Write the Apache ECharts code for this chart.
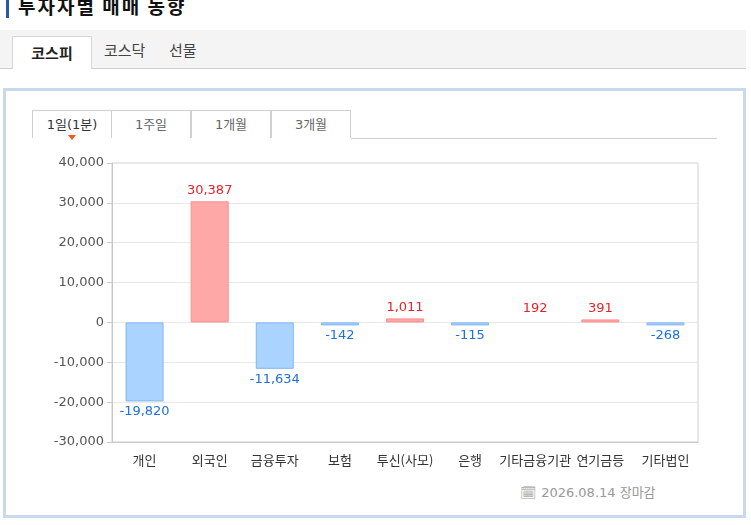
<!DOCTYPE html>
<html>
<head>
<meta charset="utf-8">
<script src="https://cdn.jsdelivr.net/npm/echarts@6/dist/echarts.min.js"></script>
<style>
  body { margin: 0; width: 751px; height: 525px; background: #fff; position: relative; overflow: hidden;
         font-family: "DejaVu Sans", "Noto Sans CJK KR", sans-serif; }
  .title { position: absolute; left: 6px; top: -6px; font-size: 19px; font-weight: bold; color: #111; padding-left: 9px;
           border-left: 3px solid #2a55b0; line-height: 24px; letter-spacing: 2px;
           font-family: "Noto Sans CJK KR", sans-serif; }
  .mtabs { position: absolute; left: 0; top: 30px; width: 746px; height: 38px; background: #f4f4f4; border-bottom: 1px solid #d0d0d0;
           font-family: "Noto Sans CJK KR", sans-serif; }
  .mtab { position: absolute; top: 9px; font-size: 15px; color: #444; }
  .mtab.on { top: 6px; left: 12px; width: 78px; height: 32px; background: #fff; border: 1px solid #d8d8d8; border-bottom: none;
             text-align: center; line-height: 32px; font-weight: bold; color: #222; }
  .panel { position: absolute; left: 3px; top: 88px; width: 737px; height: 424px; border: 3px solid #c8d9ee; }
  .stabs { position: absolute; left: 32px; top: 110px; height: 28px; }
  .stab { position: absolute; top: 0; width: 78px; height: 27px; border: 1px solid #d0d0d0; border-bottom: none; background: #fff;
          text-align: center; line-height: 28px; font-size: 13px; color: #666; }
  .sline { position: absolute; left: 351px; top: 138px; width: 366px; height: 1px; background: #d0d0d0; }
  .tri { position: absolute; left: 68px; top: 135px; width: 0; height: 0; border-left: 4px solid transparent;
         border-right: 4px solid transparent; border-top: 5px solid #f05a1a; }
  .foot { position: absolute; left: 520px; top: 482px; font-size: 13px; color: #999; }
  #chart { position: absolute; left: 40px; top: 146px; width: 680px; height: 340px; }
</style>
</head>
<body>
<div class="title">투자자별 매매 동향</div>
<div class="mtabs">
  <div class="mtab on">코스피</div>
  <div class="mtab" style="left:104px">코스닥</div>
  <div class="mtab" style="left:169px">선물</div>
</div>
<div class="panel"></div>
<div class="stabs">
  <div class="stab" style="left:0;color:#333">1일(1분)</div>
  <div class="stab" style="left:79px">1주일</div>
  <div class="stab" style="left:159px">1개월</div>
  <div class="stab" style="left:239px">3개월</div>
</div>
<div class="sline"></div>
<div class="tri"></div>
<div class="foot">&#x1F5D3; 2026.08.14 장마감</div>
<div id="chart"></div>
<script>
// 투자자별 순매수 (억원)
const categories = ['개인', '외국인', '금융투자', '보험', '투신(사모)', '은행', '기타금융기관', '연기금등', '기타법인'];
const values = [-19820, 30387, -11634, -142, 1011, -115, 192, 391, -268];
const yTicks = { min: -30000, max: 40000, interval: 10000 };

const chart = echarts.init(document.getElementById('chart'));
const font = '"DejaVu Sans", "Noto Sans CJK KR", sans-serif';

const barData = values.map((v, i) => {
  // 기타금융기관 막대는 원본에서 보이지 않음 (라벨만 표시)
  const hidden = categories[i] === '기타금융기관';
  return {
    value: v,
    itemStyle: {
      color: hidden ? 'transparent' : (v >= 0 ? '#ffa8a8' : '#aad4ff'),
      borderColor: hidden ? 'transparent' : (v >= 0 ? '#ff8c8c' : '#7fb5f5'),
      borderWidth: 1
    },
    label: {
      position: v >= 0 ? 'top' : 'bottom',
      color: v >= 0 ? '#e8222a' : '#1f6fe0'
    }
  };
});

chart.setOption({
  animation: false,
  textStyle: { fontFamily: font },
  grid: { left: 72, right: 22, top: 17, bottom: 44, show: true, borderColor: '#d0d0d0', borderWidth: 1 },
  xAxis: {
    type: 'category',
    data: categories,
    position: 'bottom',
    axisLine: { onZero: false, lineStyle: { color: '#c8c8c8' } },
    axisTick: { alignWithLabel: true, length: 5, lineStyle: { color: '#c8c8c8' } },
    axisLabel: { color: '#333', fontSize: 13, margin: 12, interval: 0, fontFamily: '"Noto Sans CJK KR", sans-serif' }
  },
  yAxis: {
    type: 'value',
    min: yTicks.min,
    max: yTicks.max,
    interval: yTicks.interval,
    axisLine: { show: true, lineStyle: { color: '#c8c8c8' } },
    axisTick: { show: true, length: 5, lineStyle: { color: '#c8c8c8' } },
    axisLabel: { color: '#555', fontSize: 13, margin: 8, fontFamily: font, formatter: v => v.toLocaleString('en-US') },
    splitLine: { lineStyle: { color: '#e8e8e8' } }
  },
  series: [{
    type: 'bar',
    data: barData,
    barWidth: 38,
    barMinHeight: 3,
    label: {
      show: true,
      fontSize: 13,
      fontFamily: font,
      distance: 4,
      formatter: p => p.value.toLocaleString('en-US')
    }
  }]
});
</script>
</body>
</html>
